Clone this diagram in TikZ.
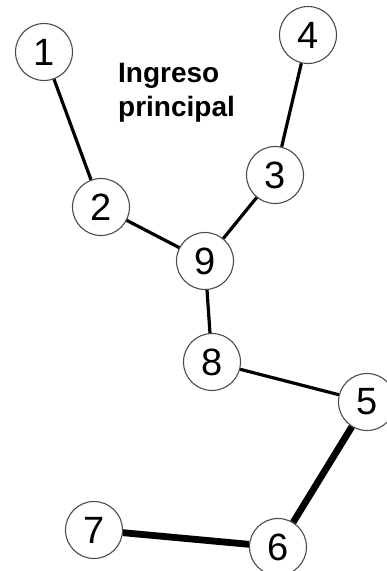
\documentclass[tikz,border=0pt]{standalone}
\usepackage{fontspec}
\setmainfont{Liberation Sans}
\begin{document}
\begin{tikzpicture}[x=1pt,y=-1pt,
  vert/.style={circle,draw=black!70,line width=1.1pt,fill=white,minimum size=57pt,inner sep=0pt,font=\fontsize{38}{38}\selectfont},
  thin/.style={line width=3.2pt},
  heavy/.style={line width=6.8pt}]
\useasboundingbox (0,0) rectangle (387,571);
\node[vert] (n1) at (44,52) {1};
\node[vert] (n4) at (308,35) {4};
\node[vert] (n3) at (275,175) {3};
\node[vert] (n2) at (101,207) {2};
\node[vert] (n9) at (205,261) {9};
\node[vert] (n8) at (212,362) {8};
\node[vert] (n5) at (367,402) {5};
\node[vert] (n7) at (94,530) {7};
\node[vert] (n6) at (278,547) {6};
\node[anchor=base west,align=left,inner sep=0pt,font=\bfseries\fontsize{28}{34}\selectfont] (lbl) at (118,116) {Ingreso\\principal};
\draw[thin] (n1) -- (n2);
\draw[thin] (n4) -- (n3);
\draw[thin] (n2) -- (n9);
\draw[thin] (n3) -- (n9);
\draw[thin] (n9) -- (n8);
\draw[thin] (n8) -- (n5);
\draw[heavy] (n5) -- (n6);
\draw[heavy] (n7) -- (n6);
\end{tikzpicture}
\end{document}
